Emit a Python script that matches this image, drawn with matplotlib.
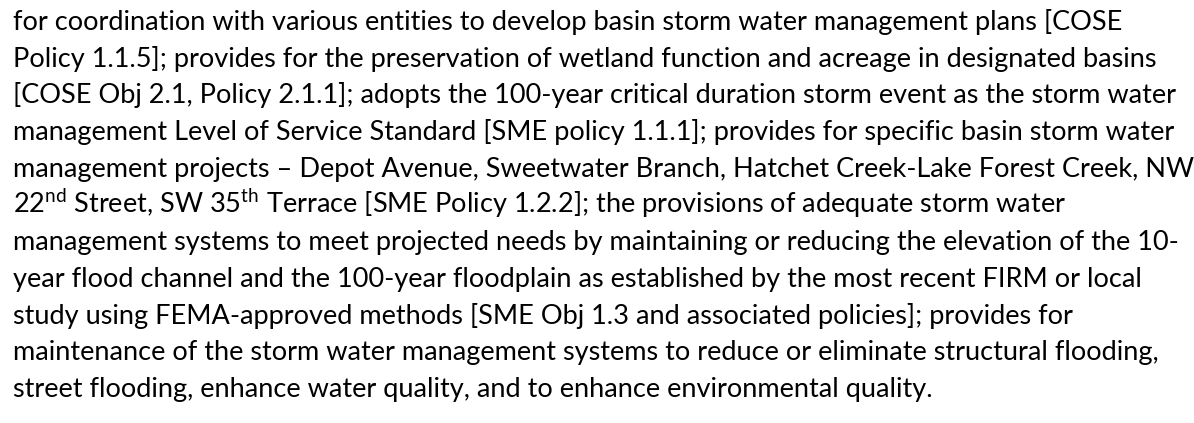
import matplotlib
matplotlib.use("Agg")
import matplotlib.pyplot as plt

# 段落文字，每一行照原圖斷行
lines = [
    "for coordination with various entities to develop basin storm water management plans [COSE",
    "Policy 1.1.5]; provides for the preservation of wetland function and acreage in designated basins",
    "[COSE Obj 2.1, Policy 2.1.1]; adopts the 100-year critical duration storm event as the storm water",
    "management Level of Service Standard [SME policy 1.1.1]; provides for specific basin storm water",
    "management projects \u2013 Depot Avenue, Sweetwater Branch, Hatchet Creek-Lake Forest Creek, NW",
    r"22$^{\mathrm{nd}}$ Street, SW 35$^{\mathrm{th}}$ Terrace [SME Policy 1.2.2]; the provisions of adequate storm water",
    "management systems to meet projected needs by maintaining or reducing the elevation of the 10-",
    "year flood channel and the 100-year floodplain as established by the most recent FIRM or local",
    "study using FEMA-approved methods [SME Obj 1.3 and associated policies]; provides for",
    "maintenance of the storm water management systems to reduce or eliminate structural flooding,",
    "street flooding, enhance water quality, and to enhance environmental quality.",
]

font_name = "Lato"
plt.rcParams["font.family"] = [font_name, "DejaVu Sans"]
plt.rcParams["mathtext.fontset"] = "custom"
plt.rcParams["mathtext.rm"] = font_name

W, H = 1194, 423
fig = plt.figure(figsize=(W / 100, H / 100), dpi=100)
ax = fig.add_axes([0, 0, 1, 1])
ax.set_xlim(0, W)
ax.set_ylim(H, 0)
ax.axis("off")

left = 13
first_base = 30
step = 36.7
target_w = 1110  # 第一行寬度

# 先量第一行寬度，再換算字級
renderer = fig.canvas.get_renderer()
probe = ax.text(0, 0, lines[0], fontsize=10)
w10 = probe.get_window_extent(renderer).width
probe.remove()
size = 10 * target_w / w10

for i, txt in enumerate(lines):
    ax.text(left, first_base + i * step, txt, fontsize=size,
            color="#000000", va="baseline", ha="left")

fig.savefig("out.png", dpi=100, facecolor="white")
